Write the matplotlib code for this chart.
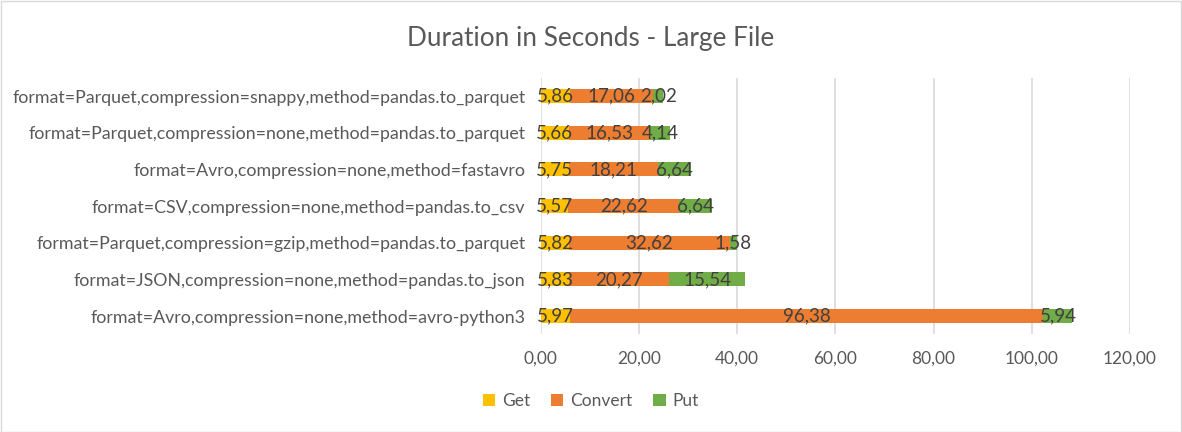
import matplotlib.pyplot as plt
from matplotlib.patches import Rectangle

plt.rcParams['font.family'] = ['Lato', 'DejaVu Sans']

labels = [
    'format=Parquet,compression=snappy,method=pandas.to_parquet',
    'format=Parquet,compression=none,method=pandas.to_parquet',
    'format=Avro,compression=none,method=fastavro',
    'format=CSV,compression=none,method=pandas.to_csv',
    'format=Parquet,compression=gzip,method=pandas.to_parquet',
    'format=JSON,compression=none,method=pandas.to_json',
    'format=Avro,compression=none,method=avro-python3',
]
get = [5.86, 5.66, 5.75, 5.57, 5.82, 5.83, 5.97]
convert = [17.06, 16.53, 18.21, 22.62, 32.62, 20.27, 96.38]
put = [2.02, 4.14, 6.64, 6.64, 1.58, 15.54, 5.94]

series = [('Get', get, '#FFC000'), ('Convert', convert, '#ED7D31'), ('Put', put, '#70AD47')]

fig = plt.figure(figsize=(11.82, 4.32), dpi=100)
ax = fig.add_axes([0.4575, 0.226, 0.4985, 0.594])

y = list(range(len(labels)))
left = [0.0] * len(labels)
for name, vals, color in series:
    bars = ax.barh(y, vals, left=left, height=0.38, color=color, label=name, zorder=3)
    for b, v in zip(bars, vals):
        ax.text(b.get_x() + b.get_width() / 2, b.get_y() + b.get_height() / 2,
                f'{v:.2f}'.replace('.', ','), ha='center', va='center',
                fontsize=13.5, color='#404040', zorder=4)
    left = [l + v for l, v in zip(left, vals)]

ax.set_ylim(len(labels) - 0.5, -0.5)
ax.set_xlim(0, 120)
ax.set_xticks(range(0, 121, 20))
ax.set_xticklabels([f'{t:.2f}'.replace('.', ',') for t in range(0, 121, 20)])
ax.set_yticks(y)
ax.set_yticklabels(labels)
ax.tick_params(axis='x', length=0, labelsize=12.5, labelcolor='#595959', pad=12)
ax.tick_params(axis='y', length=0, labelsize=12.8, labelcolor='#595959', pad=11)
ax.grid(axis='x', color='#D9D9D9', linewidth=1.2, zorder=0)
for s in ax.spines.values():
    s.set_visible(False)

fig.suptitle('Duration in Seconds - Large File', x=0.5, y=0.94, fontsize=18.8, color='#595959')

ax.legend(loc='center', bbox_to_anchor=(0.5, 0.072), bbox_transform=fig.transFigure,
          ncol=3, frameon=False, fontsize=12.5, labelcolor='#595959',
          handlelength=0.7, handleheight=0.7, handletextpad=0.4, columnspacing=1.2)

fig.patches.append(Rectangle((0.0005, 0.001), 0.999, 0.997, transform=fig.transFigure,
                             fill=False, edgecolor='#D9D9D9', linewidth=1))

fig.savefig('out.png', dpi=100)
